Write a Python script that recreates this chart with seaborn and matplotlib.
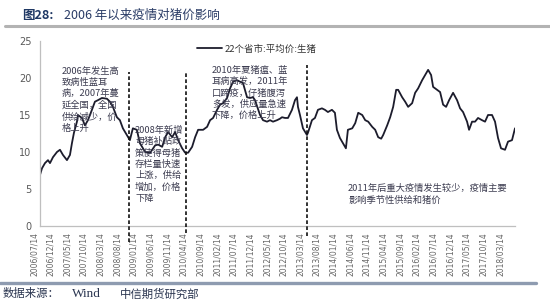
import matplotlib
matplotlib.use('Agg')
import matplotlib.pyplot as plt
import seaborn as sns
import pandas as pd
from matplotlib.transforms import ScaledTranslation

# months since 2006/07/14
months = [0, 0.6, 1.5, 2.4, 3.0, 3.9, 5.1, 6.0, 6.9, 8.1, 9.0, 9.6, 10.2, 11.1, 11.4,
          12.6, 13.5, 14.4, 15.6, 16.5, 17.4, 18.6, 20.1, 21.0, 21.9, 23.1, 24.0, 24.9,
          26.1, 27.0, 27.9, 29.1, 30.0, 31.6, 33.1, 34.6, 35.5, 36.7, 37.6, 38.5, 39.7,
          40.6, 41.5, 42.7, 43.6, 44.5, 45.7, 46.6, 47.5, 49.0, 50.2, 51.1, 52.0, 53.2,
          54.1, 55.0, 56.2, 57.1, 58.0, 59.2, 60.1, 61.0, 62.2, 63.1, 64.0, 64.6, 66.1,
          67.0, 68.2, 69.1, 70.0, 71.2, 72.1, 72.7, 73.6, 74.5, 75.7, 76.6, 77.2, 77.5,
          78.1, 79.0, 80.2, 80.5, 81.7, 82.6, 83.5, 84.7, 85.6, 86.5, 87.7, 88.6, 89.2,
          90.1, 91.0, 91.9, 92.5, 93.8, 94.7, 95.6, 96.8, 97.7, 98.6, 99.8, 100.7, 101.6,
          102.5, 103.1, 104.3, 105.2, 106.1, 107.0, 107.6, 108.8, 109.7, 110.6, 111.8,
          112.7, 113.6, 114.8, 115.7, 116.6, 117.5, 118.1, 119.3, 120.2, 121.1, 122.0,
          122.9, 124.1, 125.3, 126.2, 127.1, 128.3, 128.9, 129.8, 130.7, 131.6, 132.8,
          133.7, 134.6, 135.8, 136.7, 137.6, 138.5, 139.7, 140.6, 141.8, 142.7]
prices = [6.9, 7.8, 8.5, 8.9, 8.5, 9.3, 10.0, 10.3, 9.6, 8.9, 9.6, 11.2, 12.6, 14.1, 15.0,
          14.6, 13.6, 14.3, 15.7, 16.8, 17.0, 17.3, 17.2, 16.8, 16.1, 14.7, 14.3, 13.2,
          12.3, 11.6, 13.2, 13.0, 11.2, 10.0, 9.9, 10.9, 11.0, 10.7, 12.0, 12.7, 12.0,
          12.7, 11.6, 10.5, 9.9, 9.9, 10.7, 12.0, 13.0, 13.0, 13.4, 14.3, 14.6, 15.7,
          16.4, 16.6, 17.3, 18.6, 19.5, 19.7, 19.5, 19.3, 17.4, 17.3, 17.4, 17.0, 15.0,
          14.3, 14.1, 14.3, 14.1, 14.3, 14.5, 14.7, 14.6, 14.6, 15.7, 17.0, 17.4, 16.1,
          15.0, 13.2, 12.3, 12.6, 14.3, 14.6, 15.7, 15.9, 15.7, 15.4, 15.7, 15.3, 13.0,
          11.9, 11.2, 10.5, 13.0, 13.2, 13.9, 15.3, 15.0, 14.3, 14.1, 13.4, 13.0, 12.0,
          11.8, 12.3, 13.6, 14.7, 16.1, 18.4, 18.4, 17.4, 16.8, 16.1, 16.6,
          18.0, 18.6, 19.7, 20.4, 21.1, 20.4, 18.8, 18.4, 18.1, 16.4, 16.1,
          17.0, 18.0, 17.0, 15.9, 15.4, 14.1, 13.0, 14.1, 14.1, 14.6, 14.3,
          14.1, 15.0, 15.0, 14.1, 11.9, 10.5, 10.3, 11.4, 11.6, 13.2]

tick_labels = ['2006/07/14', '2006/12/14', '2007/05/14', '2007/10/14', '2008/03/14',
               '2008/08/14', '2009/01/14', '2009/06/14', '2009/11/14', '2010/04/14',
               '2010/09/14', '2011/02/14', '2011/07/14', '2011/12/14', '2012/05/14',
               '2012/10/14', '2013/03/14', '2013/08/14', '2014/01/14', '2014/06/14',
               '2014/11/14', '2015/04/14', '2015/09/14', '2016/02/14', '2016/07/14',
               '2016/12/14', '2017/05/14', '2017/10/14', '2018/03/14']
tick_step = 5  # months between labels

event_months = [26.7, 43.9, 80.2]
event_tops = [20.8, 20.8, 21.8]
event_bottoms = [-2.1, -1.0, -1.3]

series_name = '22个省市:平均价:生猪'
notes = [
    '2006年发生高\n致病性蓝耳\n病，2007年蔓\n延全国，全国\n供给减少，价\n格上升',
    '2008年新增\n母猪补贴政\n策使得母猪\n存栏量快速\n上涨，供给\n增加，价格\n下降',
    '2010年夏猪瘟、蓝\n耳病高发，2011年\n口蹄疫，仔猪腹泻\n多发，供应量急速\n下降，价格上升',
    '2011年后重大疫情发生较少，疫情主要\n影响季节性供给和猪价',
]

sns.set_theme(style='white')
plt.rcParams['font.family'] = ['Noto Sans CJK SC', 'DejaVu Sans']

W, H = 550, 303
fig = plt.figure(figsize=(W / 100, H / 100), dpi=100)
fig.patch.set_facecolor('white')

def px(x, y):
    return (x / W, 1 - y / H)

ax = fig.add_axes([40 / W, 1 - 226 / H, 475 / W, 185 / H])
df = pd.DataFrame({'month': months, 'price': prices})
sns.lineplot(data=df, x='month', y='price', ax=ax, color='#1c1c2c', lw=1.3,
             sort=False, estimator=None, label=series_name)

ax.set_xlim(0, 142.7)
ax.set_ylim(0, 25)
ax.set_xlabel('')
ax.set_ylabel('')
ax.set_yticks([0, 5, 10, 15, 20, 25])
ax.set_xticks([tick_step * i for i in range(len(tick_labels))])
ax.set_xticklabels(tick_labels, rotation=90, fontsize=5.5, color='#666666',
                   family='DejaVu Sans')
ax.tick_params(axis='x', length=0, pad=4.5)
ax.tick_params(axis='y', length=0, pad=6, labelsize=7, labelcolor='#595959')
for lab in ax.get_xticklabels():
    lab.set_transform(lab.get_transform() + ScaledTranslation(-6 / 100, 0, fig.dpi_scale_trans))
for lab in ax.get_yticklabels():
    lab.set_family('DejaVu Sans')

for s in ['top', 'right']:
    ax.spines[s].set_visible(False)
for s in ['left', 'bottom']:
    ax.spines[s].set_color('#bfbfbf')
    ax.spines[s].set_linewidth(0.9)
ax.grid(False)

ax.vlines(event_months, event_bottoms, event_tops, colors='#111111',
          linestyles=(0, (2.2, 1.4)), lw=1.2, clip_on=False, zorder=3)

leg = ax.legend(loc='center left', bbox_to_anchor=px(197, 49), bbox_transform=fig.transFigure,
                frameon=False, fontsize=6.8, handlelength=2.6, handletextpad=0.35,
                borderpad=0, borderaxespad=0)
for t in leg.get_texts():
    t.set_color('#333333')

note_pos = [(62, 67), (135, 126), (212, 66), (348, 184)]
for txt, (x, y) in zip(notes, note_pos):
    fig.text(*px(x, y), txt, fontsize=6.7, color='#3c3c50', va='top', ha='left',
             linespacing=1.3)

# title
fig.text(*px(22, 15), '图28:', fontsize=9, color='#1f3864', va='center', ha='left',
         fontweight='bold')
fig.text(*px(64, 15), '2006 年以来疫情对猪价影响', fontsize=9, color='#2a3c66',
         va='center', ha='left')
fig.add_artist(plt.Line2D([5 / W, 1.0], [1 - 26 / H] * 2, color='#b3b3b3', lw=2.2))

# footer
fig.add_artist(plt.Line2D([0, 536 / W], [1 - 283 / H] * 2, color='#8e9bb0', lw=2.4))
fig.text(*px(3, 294), '数据来源：', fontsize=8.2, color='#2a3550', va='center', ha='left')
fig.text(*px(72, 294), 'Wind', fontsize=9.5, color='#2a3550', va='center', ha='left',
         family='Liberation Serif')
fig.text(*px(120, 294), '中信期货研究部', fontsize=8.2, color='#2a3550', va='center', ha='left')

fig.savefig('out.png', dpi=100, facecolor='white')
